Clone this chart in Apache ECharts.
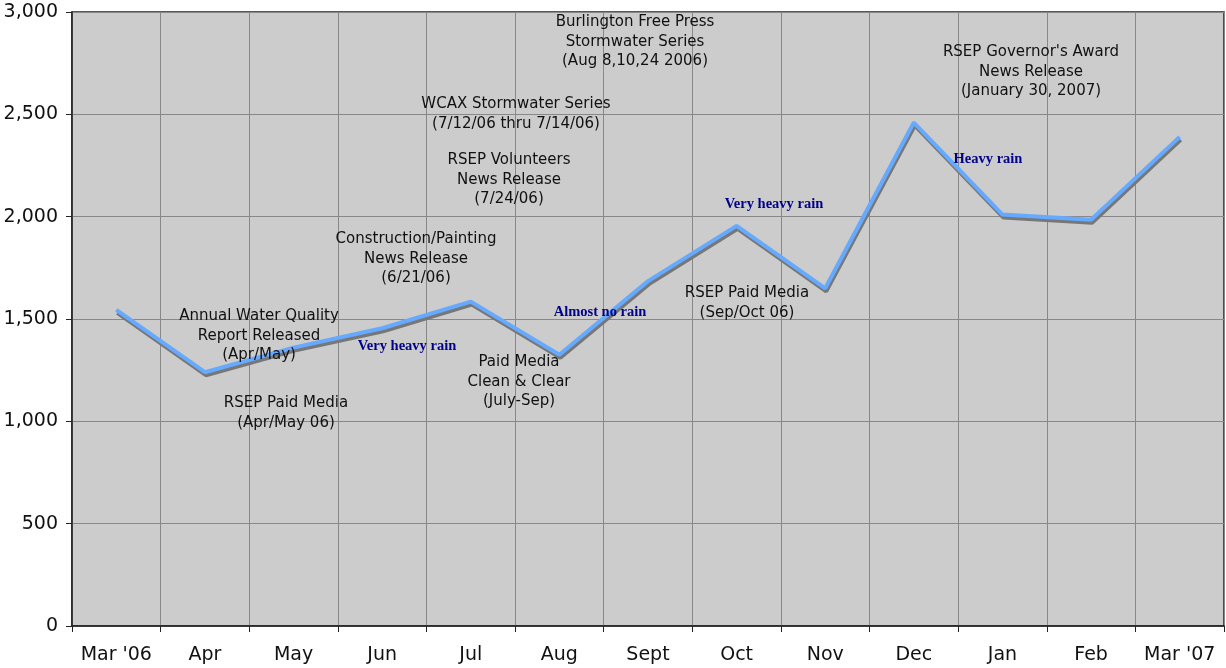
<!DOCTYPE html>
<html>
<head>
<meta charset="utf-8">
<script src="https://cdn.jsdelivr.net/npm/echarts@6/dist/echarts.min.js"></script>
<style>
  html, body { margin: 0; padding: 0; background: #fff; }
  #main { width: 1226px; height: 668px; }
</style>
</head>
<body>
<div id="main"></div>
<script>
// months on the x axis
var months = ["Mar '06", "Apr", "May", "Jun", "Jul", "Aug", "Sept", "Oct", "Nov", "Dec", "Jan", "Feb", "Mar '07"];
// monthly values
var values = [1545, 1240, 1360, 1455, 1585, 1325, 1685, 1955, 1650, 2460, 2010, 1985, 2390];
// y axis ticks
var yMin = 0, yMax = 3000, yStep = 500;

// grey annotation blocks: [lines, centre x, first line y]
var notes = [
  [["Burlington Free Press", "Stormwater Series", "(Aug 8,10,24 2006)"], 635, 22],
  [["WCAX Stormwater Series", "(7/12/06 thru 7/14/06)"], 516, 104],
  [["RSEP Volunteers", "News Release", "(7/24/06)"], 509, 160],
  [["Construction/Painting", "News Release", "(6/21/06)"], 416, 239],
  [["Annual Water Quality", "Report Released", "(Apr/May)"], 259, 316],
  [["RSEP Paid Media", "(Apr/May 06)"], 286, 403],
  [["Paid Media", "Clean & Clear", "(July-Sep)"], 519, 362],
  [["RSEP Paid Media", "(Sep/Oct 06)"], 747, 293],
  [["RSEP Governor's Award", "News Release", "(January 30, 2007)"], 1031, 52]
];
// rain notes in blue
var rain = [
  ["Very heavy rain", 407, 346],
  ["Almost no rain", 600, 312],
  ["Very heavy rain", 774, 204],
  ["Heavy rain", 988, 159]
];

var lh = 19.8;
var graphics = [];
notes.forEach(function (n) {
  graphics.push({
    type: "text",
    x: n[1],
    y: n[2] - lh / 2,
    z: 10,
    style: {
      text: n[0].join("\n"),
      align: "center",
      verticalAlign: "top",
      font: "15px 'DejaVu Sans'",
      lineHeight: lh,
      fill: "#111"
    }
  });
});
rain.forEach(function (r) {
  graphics.push({
    type: "text",
    x: r[1],
    y: r[2],
    z: 10,
    style: {
      text: r[0],
      align: "center",
      verticalAlign: "middle",
      font: "bold 14.5px 'Liberation Serif'",
      fill: "#00008b"
    }
  });
});

var chart = echarts.init(document.getElementById("main"));
chart.setOption({
  animation: false,
  grid: {
    left: 72,
    right: 2,
    top: 12,
    bottom: 42,
    show: true,
    backgroundColor: "#cccccc",
    borderColor: "#222",
    borderWidth: 1.5
  },
  xAxis: {
    type: "category",
    data: months,
    boundaryGap: true,
    axisLine: { lineStyle: { color: "#222", width: 1.5 } },
    axisTick: { show: true, interval: 0, length: 6, lineStyle: { color: "#222" } },
    axisLabel: { interval: 0, color: "#111", fontSize: 19, fontFamily: "DejaVu Sans", margin: 20 },
    splitLine: { show: true, interval: 0, lineStyle: { color: "#888", width: 1 } }
  },
  yAxis: {
    type: "value",
    min: yMin,
    max: yMax,
    interval: yStep,
    axisLine: { show: true, lineStyle: { color: "#222", width: 1.5 } },
    axisTick: { show: true, length: 6, lineStyle: { color: "#222" } },
    axisLabel: {
      color: "#111",
      fontSize: 19,
      fontFamily: "DejaVu Sans",
      margin: 14,
      formatter: function (v) { return v.toLocaleString("en-US"); }
    },
    splitLine: { show: true, lineStyle: { color: "#888", width: 1 } }
  },
  series: [
    {
      type: "line",
      data: values,
      symbol: "none",
      lineStyle: {
        color: "#66aaff",
        width: 4,
        shadowColor: "#777",
        shadowOffsetX: 1,
        shadowOffsetY: 3,
        shadowBlur: 0
      }
    }
  ],
  graphic: graphics
});
</script>
</body>
</html>
